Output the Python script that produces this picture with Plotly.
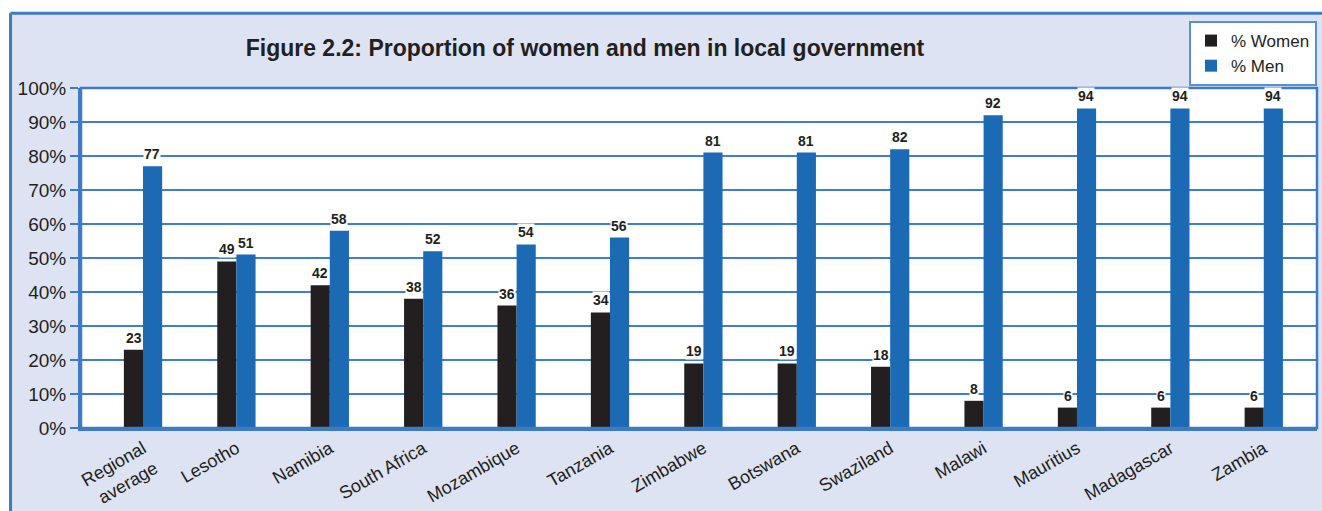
import plotly.graph_objects as go

categories = ["Regional<br>average", "Lesotho", "Namibia", "South Africa", "Mozambique",
              "Tanzania", "Zimbabwe", "Botswana", "Swaziland", "Malawi", "Mauritius",
              "Madagascar", "Zambia"]
women = [23, 49, 42, 38, 36, 34, 19, 19, 18, 8, 6, 6, 6]
men = [77, 51, 58, 52, 54, 56, 81, 81, 82, 92, 94, 94, 94]
y_ticks = [0, 10, 20, 30, 40, 50, 60, 70, 80, 90, 100]
y_tick_labels = [f"{v}%" for v in y_ticks]
title_text = "Figure 2.2: Proportion of women and men in local government"

BLUE = "#1c69b4"
BLACK = "#231f20"
FRAME = "#3d7cc4"
LAV = "#dde3f3"
FONT = "Arial, Liberation Sans, Helvetica, sans-serif"

xs = list(range(len(categories)))

fig = go.Figure()
fig.add_trace(go.Bar(x=xs, y=women, name="% Women", marker=dict(color=BLACK, line=dict(width=0))))
fig.add_trace(go.Bar(x=xs, y=men, name="% Men", marker=dict(color=BLUE, line=dict(width=0))))

annotations = []
for i, (w, m) in enumerate(zip(women, men)):
    for xv, v in ((i - 0.1, w), (i + 0.1, m)):
        annotations.append(dict(x=xv, y=v, xref="x", yref="y", text=str(v), showarrow=False,
                                yanchor="bottom", yshift=3, bgcolor="white", borderpad=0,
                                font=dict(family=FONT, size=14, color=BLACK, weight="bold")))

shapes = [
    # white strips outside outer frame
    dict(type="rect", xref="paper", yref="paper", x0=-1, x1=2, y0=1.2235, y1=2,
         fillcolor="white", line=dict(width=0), layer="below"),
    dict(type="rect", xref="paper", yref="paper", x0=-1, x1=-0.0583, y0=-1, y1=2,
         fillcolor="white", line=dict(width=0), layer="below"),
    # outer frame lines
    dict(type="line", xref="paper", yref="paper", x0=-0.0570, x1=-0.0570, y0=-0.5, y1=1.2195,
         line=dict(color=FRAME, width=3)),
    dict(type="line", xref="paper", yref="paper", x0=-0.0570, x1=1.2, y0=1.2195, y1=1.2195,
         line=dict(color=FRAME, width=3)),
    # plot border
    dict(type="rect", xref="paper", yref="paper", x0=0, x1=1, y0=0, y1=1,
         line=dict(color=FRAME, width=2.5)),
]

fig.update_layout(
    width=1322, height=511,
    margin=dict(l=81, r=5, t=88, b=83, autoexpand=False),
    paper_bgcolor=LAV, plot_bgcolor="white",
    barmode="group", bargap=0.59, bargroupgap=0,
    font=dict(family=FONT, color=BLACK),
    title=dict(text=title_text, x=0.4425, xref="container", xanchor="center",
               y=1 - 48 / 511, yref="container", yanchor="middle",
               font=dict(family="Liberation Sans Narrow, Arial Narrow, Arial, sans-serif",
                         size=23, color=BLACK, weight="bold")),
    legend=dict(x=1.0, y=1.197, xanchor="right", yanchor="top", bgcolor="white",
                bordercolor="#5a8fd2", borderwidth=2, font=dict(size=17, color=BLACK),
                traceorder="normal", itemwidth=30, tracegroupgap=0),
    showlegend=True,
    annotations=annotations,
    shapes=shapes,
    xaxis=dict(tickmode="array", tickvals=xs, ticktext=categories, tickangle=-30,
               range=[-0.664, 12.57], showgrid=False, ticks="", zeroline=False,
               showline=True, linecolor=FRAME, linewidth=3, automargin=False,
               tickfont=dict(size=18, color=BLACK)),
    yaxis=dict(range=[0, 100], tickmode="array", tickvals=y_ticks, ticktext=y_tick_labels,
               showgrid=True, gridcolor="#3f7fc7", gridwidth=1.5, zeroline=False,
               showline=True, linecolor=FRAME, linewidth=3, ticks="outside", ticklen=8,
               tickwidth=2, tickcolor=FRAME, automargin=False,
               tickfont=dict(size=19, color=BLACK)),
)

fig.write_html("out.html")
